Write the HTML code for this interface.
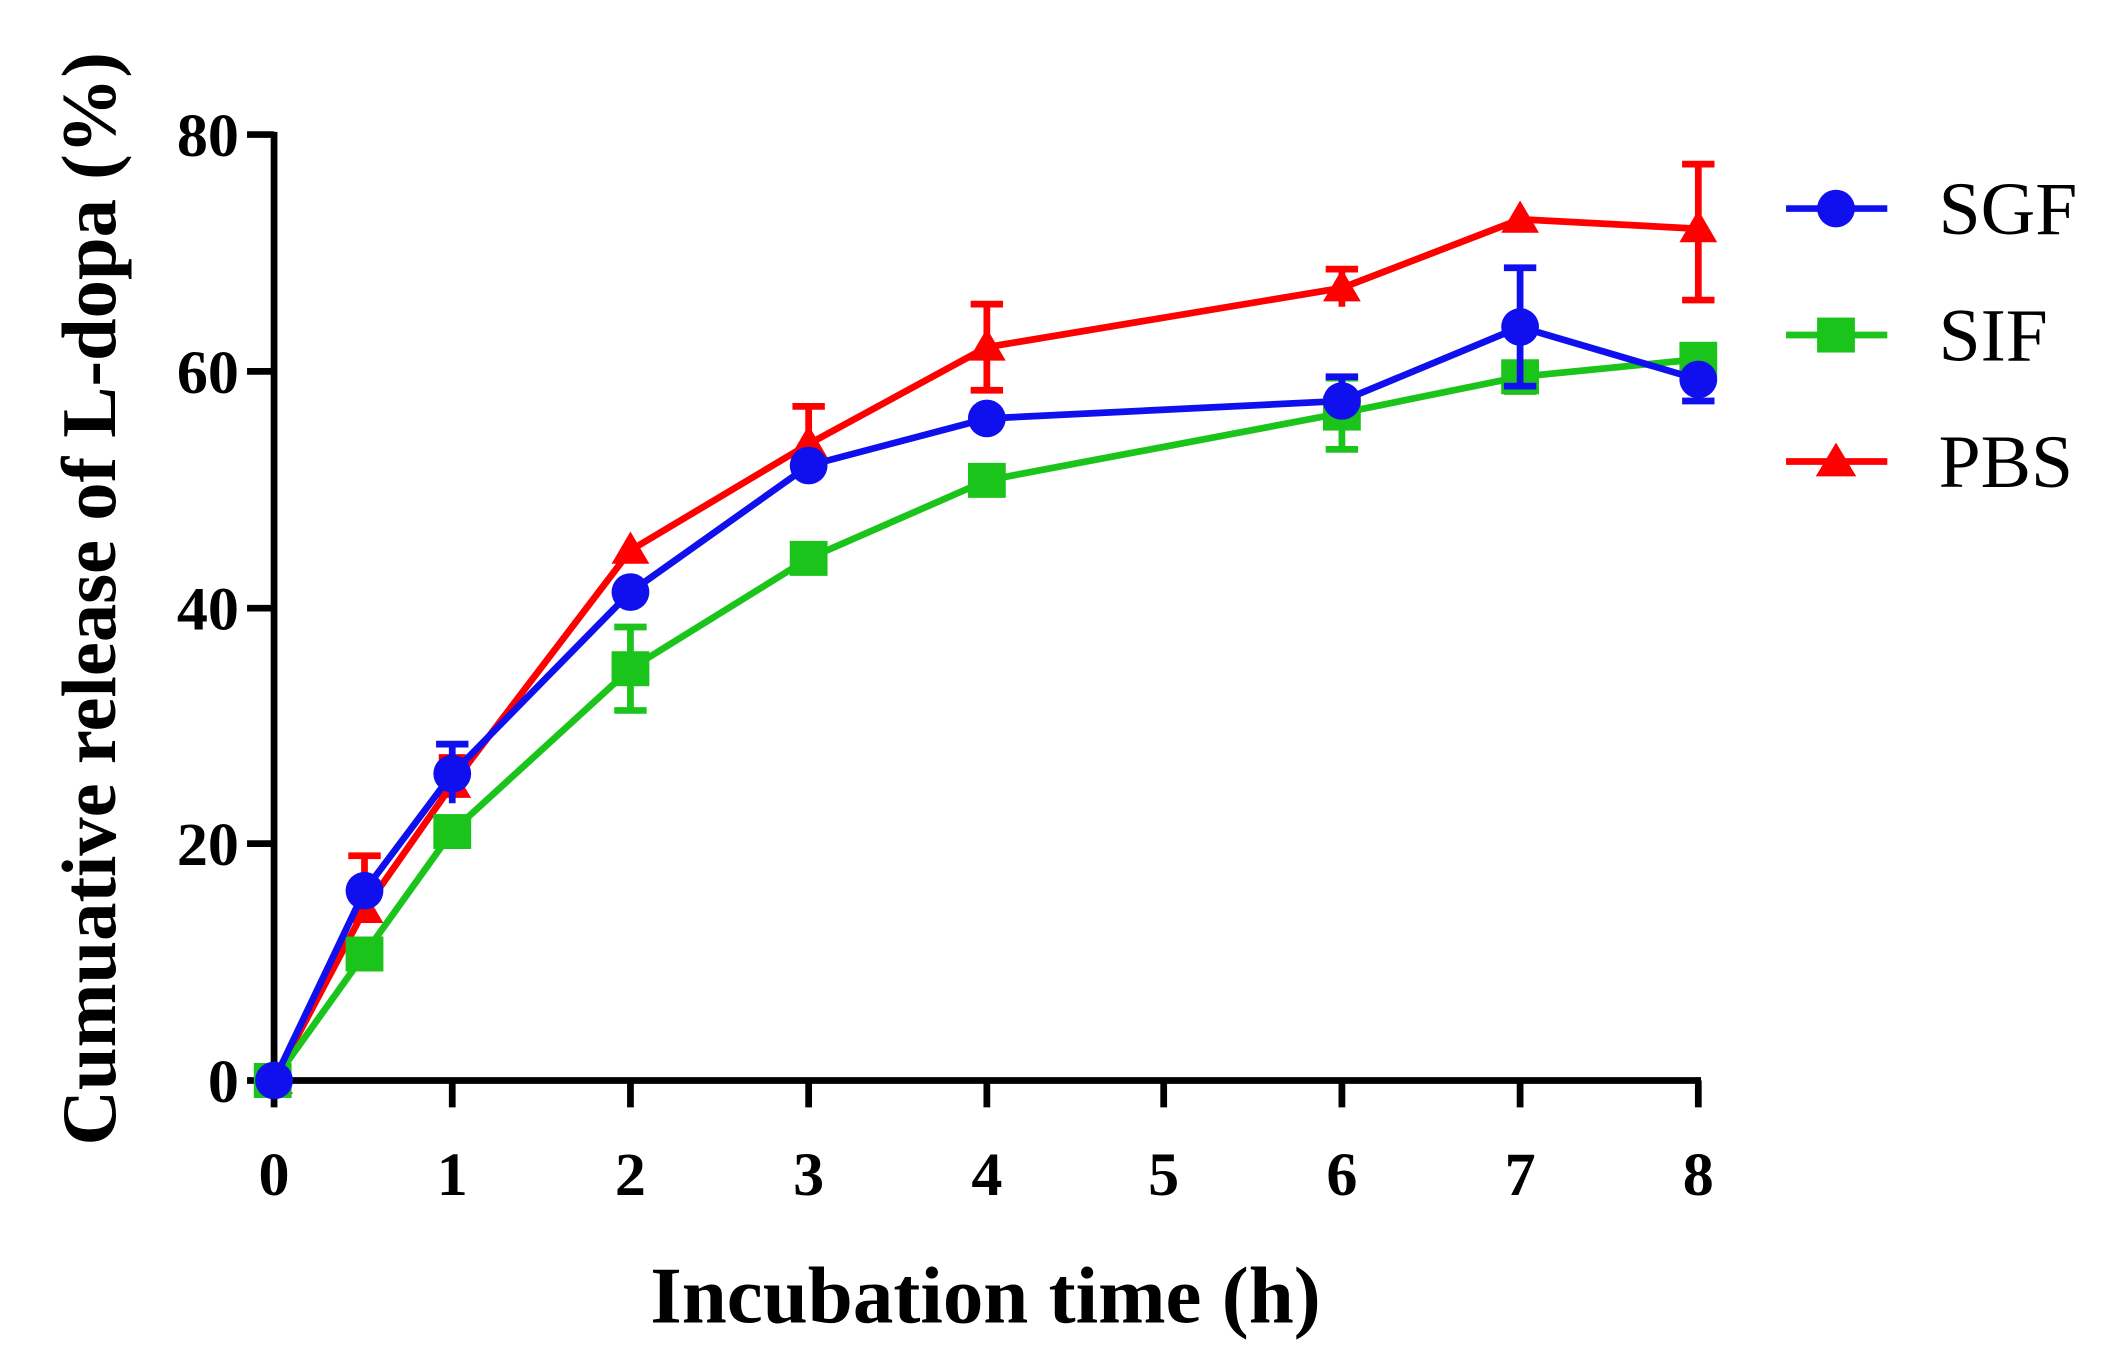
<!DOCTYPE html>
<html><head><style>html,body{margin:0;padding:0;background:#fff}</style></head>
<body>
<svg width="2106" height="1359" viewBox="0 0 1560 1010" preserveAspectRatio="none" xmlns="http://www.w3.org/2000/svg" font-family="Liberation Serif, serif">
<rect width="1560" height="1010" fill="#fff"/>
<g stroke="#000" stroke-width="5" fill="none">
<path d="M203,98 V803 H1260"/>
<path d="M183,100 H203 M183,276 H203 M183,452 H203 M183,627 H203 M183,803 H203"/>
<path d="M203,803 V823 M335,803 V823 M467,803 V823 M599,803 V823 M731,803 V823 M862,803 V823 M994,803 V823 M1126,803 V823 M1258,803 V823"/>
</g>
<g font-weight="bold" font-size="46" text-anchor="end">
<text x="177" y="116">80</text><text x="177" y="292">60</text><text x="177" y="468">40</text><text x="177" y="643">20</text><text x="177" y="819">0</text>
</g>
<g font-weight="bold" font-size="46" text-anchor="middle">
<text x="203" y="888">0</text><text x="335" y="888">1</text><text x="467" y="888">2</text><text x="599" y="888">3</text><text x="731" y="888">4</text><text x="862" y="888">5</text><text x="994" y="888">6</text><text x="1126" y="888">7</text><text x="1258" y="888">8</text>
</g>
<text x="730" y="983" font-weight="bold" font-size="60" text-anchor="middle">Incubation time (h)</text>
<text transform="translate(85,445) rotate(-90)" font-weight="bold" font-size="57" text-anchor="middle">Cumuative release of L-dopa (%)</text>

<!-- PBS -->
<g stroke="#f00" stroke-width="5" fill="none">
<polyline points="203,803 270,676 335,583 467,409 599,330 731,258 994,214 1126,163 1258,170"/>
<path d="M270,676 V636 M258,636 H282 M335,583 V563 M325,563 H345 M599,330 V302 M587,302 H611 M731,258 V226 M719,226 H743 M731,258 V290 M719,290 H743 M994,214 V200 M982,200 H1006 M994,214 V228 M1258,170 V122 M1246,122 H1270 M1258,170 V223 M1246,223 H1270"/>
</g>
<g fill="#f00">
<path d="M270,662 l-14,24 h28z M335,569 l-14,24 h28z M467,395 l-14,24 h28z M599,316 l-14,24 h28z M731,244 l-14,24 h28z M994,200 l-14,24 h28z M1126,149 l-14,24 h28z M1258,156 l-14,24 h28z M203,789 l-14,24 h28z"/>
</g>
<!-- SIF -->
<g stroke="#1bc41b" stroke-width="5" fill="none">
<polyline points="203,803 270,709 335,618 467,497 599,415 731,357 994,307 1126,280 1258,267"/>
<path d="M467,497 V466 M455,466 H479 M467,497 V528 M455,528 H479 M994,307 V281 M982,281 H1006 M994,307 V334 M982,334 H1006 M1126,280 V291 M1114,291 H1138"/>
</g>
<g fill="#1bc41b">
<rect x="188" y="790" width="28" height="26"/><rect x="256" y="696" width="28" height="26"/><rect x="321" y="605" width="28" height="26"/><rect x="453" y="484" width="28" height="26"/><rect x="585" y="402" width="28" height="26"/><rect x="717" y="344" width="28" height="26"/><rect x="980" y="294" width="28" height="26"/><rect x="1112" y="267" width="28" height="26"/><rect x="1244" y="254" width="28" height="26"/>
</g>
<!-- SGF -->
<g stroke="#1010ee" stroke-width="5" fill="none">
<polyline points="203,803 270,662 335,575 467,440 599,346 731,311 994,298 1126,243 1258,282"/>
<path d="M335,575 V553 M323,553 H347 M335,575 V597 M994,298 V280 M982,280 H1006 M1126,243 V199 M1114,199 H1138 M1126,243 V287 M1114,287 H1138 M1258,282 V269 M1258,282 V298 M1246,298 H1270"/>
</g>
<g fill="#1010ee">
<circle cx="203" cy="803" r="14"/><circle cx="270" cy="662" r="14"/><circle cx="335" cy="575" r="14"/><circle cx="467" cy="440" r="14"/><circle cx="599" cy="346" r="14"/><circle cx="731" cy="311" r="14"/><circle cx="994" cy="298" r="14"/><circle cx="1126" cy="243" r="14"/><circle cx="1258" cy="282" r="14"/>
</g>
<!-- legend -->
<g stroke-width="5">
<line x1="1323" y1="155" x2="1398" y2="155" stroke="#1010ee"/>
<line x1="1323" y1="249" x2="1398" y2="249" stroke="#1bc41b"/>
<line x1="1323" y1="343" x2="1398" y2="343" stroke="#f00"/>
</g>
<circle cx="1360" cy="155" r="14" fill="#1010ee"/>
<rect x="1346" y="236" width="28" height="26" fill="#1bc41b"/>
<path d="M1360,329 l-15,25 h30z" fill="#f00"/>
<g font-size="56">
<text x="1436" y="174">SGF</text><text x="1436" y="268">SIF</text><text x="1436" y="362">PBS</text>
</g>
</svg>
</body></html>
